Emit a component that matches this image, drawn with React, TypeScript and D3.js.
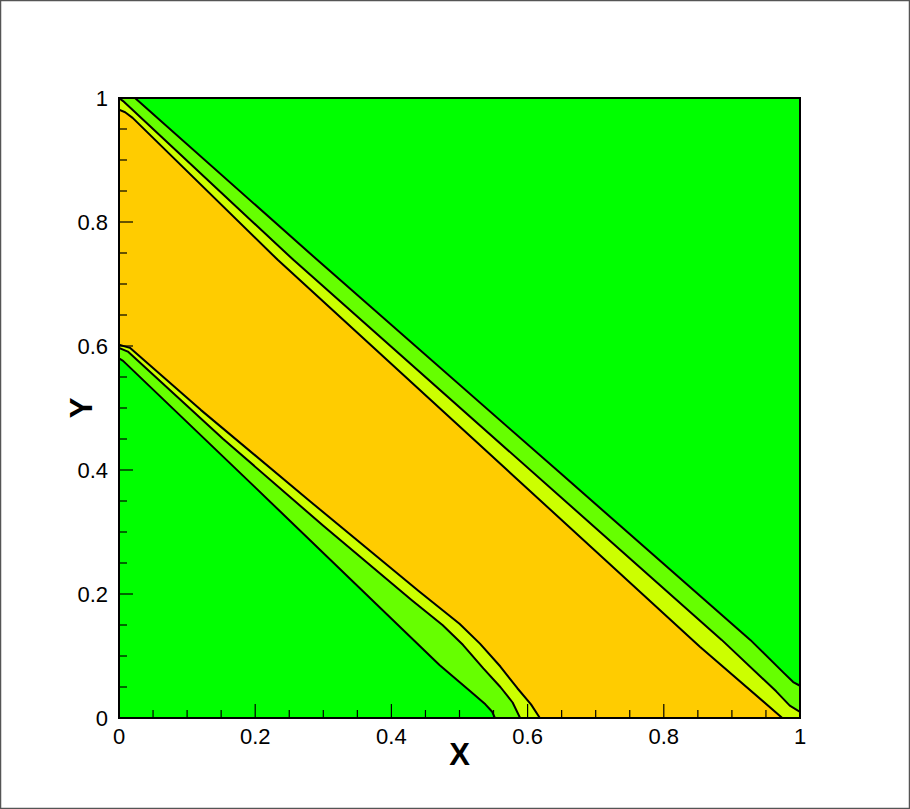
import React, { useRef, useEffect } from 'react';
import * as d3 from 'd3';

// contour lines, [x, y] in data units
// upper group (top-left to right edge)
const lineA: [number, number][] = [[0.0235, 1.0], [0.291, 0.739], [0.648, 0.395], [0.927, 0.126], [0.975, 0.074], [0.99, 0.058], [1.0, 0.052]];
const lineB: [number, number][] = [[0.0, 1.0], [0.006, 0.995], [0.256, 0.739], [0.885, 0.126], [0.965, 0.043], [0.985, 0.02], [1.0, 0.01]];
const lineC: [number, number][] = [[0.0, 0.981], [0.009, 0.977], [0.02, 0.968], [0.233, 0.739], [0.853, 0.115], [0.974, 0.0]];
// lower group (left edge to bottom edge)
const lineD: [number, number][] = [[0.0, 0.602], [0.016, 0.597], [0.12, 0.497], [0.28, 0.35], [0.44, 0.205], [0.5, 0.152], [0.53, 0.12], [0.56, 0.083], [0.585, 0.048], [0.605, 0.022], [0.618, 0.0]];
const lineE: [number, number][] = [[0.0, 0.597], [0.013, 0.591], [0.153, 0.45], [0.3, 0.31], [0.43, 0.19], [0.475, 0.15], [0.505, 0.118], [0.535, 0.08], [0.56, 0.05], [0.578, 0.025], [0.589, 0.0]];
const lineF: [number, number][] = [[0.0, 0.58], [0.006, 0.576], [0.2, 0.372], [0.471, 0.085], [0.515, 0.044], [0.538, 0.022], [0.548, 0.01], [0.552, 0.0]];

const xTicks = [0, 0.2, 0.4, 0.6, 0.8, 1];
const yTicks = [0, 0.2, 0.4, 0.6, 0.8, 1];
const tickLabels = ['0', '0.2', '0.4', '0.6', '0.8', '1'];

const GREEN = '#00ff00';
const LIGHT_GREEN = '#66ff00';
const YELLOW_GREEN = '#ccff00';
const ORANGE = '#ffcc00';

export default function App() {
  const svgRef = useRef<SVGSVGElement>(null);

  useEffect(() => {
    if (!svgRef.current) return;
    const svg = d3.select(svgRef.current);
    svg.selectAll('*').remove();

    const width = 910;
    const height = 809;
    const left = 119, right = 800, top = 98, bottom = 718;
    const font = '"Liberation Sans", Arial, Helvetica, sans-serif';

    const x = d3.scaleLinear().domain([0, 1]).range([left, right]);
    const y = d3.scaleLinear().domain([0, 1]).range([bottom, top]);

    // outer frame of the picture
    svg.append('rect')
      .attr('x', 0.5).attr('y', 0.5)
      .attr('width', width - 1).attr('height', height - 1)
      .attr('fill', '#fff')
      .attr('stroke', '#555')
      .attr('stroke-width', 1.5);

    svg.append('clipPath').attr('id', 'plot-clip')
      .append('rect')
      .attr('x', left).attr('y', top)
      .attr('width', right - left).attr('height', bottom - top);

    const plot = svg.append('g').attr('clip-path', 'url(#plot-clip)');

    // background band (outside both groups)
    plot.append('rect')
      .attr('x', left).attr('y', top)
      .attr('width', right - left).attr('height', bottom - top)
      .attr('fill', GREEN);

    const contour = d3.line<[number, number]>()
      .x(d => x(d[0]))
      .y(d => y(d[1]));

    // painted in layers: each polygon is the region below a contour line
    const layers: { pts: [number, number][]; fill: string }[] = [
      { pts: [...lineA, [1, 0], [0, 0], [0, 1]], fill: LIGHT_GREEN },
      { pts: [...lineB, [1, 0], [0, 0]], fill: YELLOW_GREEN },
      { pts: [...lineC, [0, 0]], fill: ORANGE },
      { pts: [...lineD, [0, 0]], fill: YELLOW_GREEN },
      { pts: [...lineE, [0, 0]], fill: LIGHT_GREEN },
      { pts: [...lineF, [0, 0]], fill: GREEN },
    ];

    layers.forEach(l => {
      plot.append('path')
        .attr('d', contour(l.pts) + 'Z')
        .attr('fill', l.fill)
        .attr('stroke', l.fill)
        .attr('stroke-width', 0.5);
    });

    [lineA, lineB, lineC, lineD, lineE, lineF].forEach(pts => {
      plot.append('path')
        .attr('d', contour(pts))
        .attr('fill', 'none')
        .attr('stroke', '#000')
        .attr('stroke-width', 2)
        .attr('stroke-linejoin', 'round');
    });

    // ticks (inward), major every 0.2, minor every 0.05
    const minor = d3.range(0, 1.0001, 0.05);
    const g = svg.append('g');
    minor.forEach(v => {
      const isMajor = Math.abs(Math.round(v * 5) - v * 5) < 1e-6;
      const len = isMajor ? 14 : 8;
      g.append('line')
        .attr('x1', x(v)).attr('x2', x(v))
        .attr('y1', bottom).attr('y2', bottom - len)
        .attr('stroke', '#000').attr('stroke-width', 1.2);
      g.append('line')
        .attr('x1', left).attr('x2', left + len)
        .attr('y1', y(v)).attr('y2', y(v))
        .attr('stroke', '#000').attr('stroke-width', 1.2);
    });

    // plot frame
    svg.append('rect')
      .attr('x', left).attr('y', top)
      .attr('width', right - left).attr('height', bottom - top)
      .attr('fill', 'none')
      .attr('stroke', '#000')
      .attr('stroke-width', 2);

    // tick labels
    xTicks.forEach((v, i) => {
      svg.append('text')
        .attr('x', x(v))
        .attr('y', bottom + 26)
        .attr('text-anchor', 'middle')
        .attr('font-family', font)
        .attr('font-size', 22)
        .attr('fill', '#000')
        .text(tickLabels[i]);
    });
    yTicks.forEach((v, i) => {
      svg.append('text')
        .attr('x', left - 11)
        .attr('y', y(v))
        .attr('dy', '0.36em')
        .attr('text-anchor', 'end')
        .attr('font-family', font)
        .attr('font-size', 22)
        .attr('fill', '#000')
        .text(tickLabels[i]);
    });

    // axis titles
    svg.append('text')
      .attr('x', (left + right) / 2)
      .attr('y', 765)
      .attr('text-anchor', 'middle')
      .attr('font-family', font)
      .attr('font-weight', 'bold')
      .attr('font-size', 31)
      .attr('fill', '#000')
      .text('X');

    svg.append('text')
      .attr('transform', `translate(92,${(top + bottom) / 2}) rotate(-90)`)
      .attr('text-anchor', 'middle')
      .attr('font-family', font)
      .attr('font-weight', 'bold')
      .attr('font-size', 31)
      .attr('fill', '#000')
      .text('Y');
  }, []);

  return (
    <svg
      ref={svgRef}
      width={910}
      height={809}
      style={{ position: 'absolute', left: 0, top: 0, display: 'block' }}
    />
  );
}
